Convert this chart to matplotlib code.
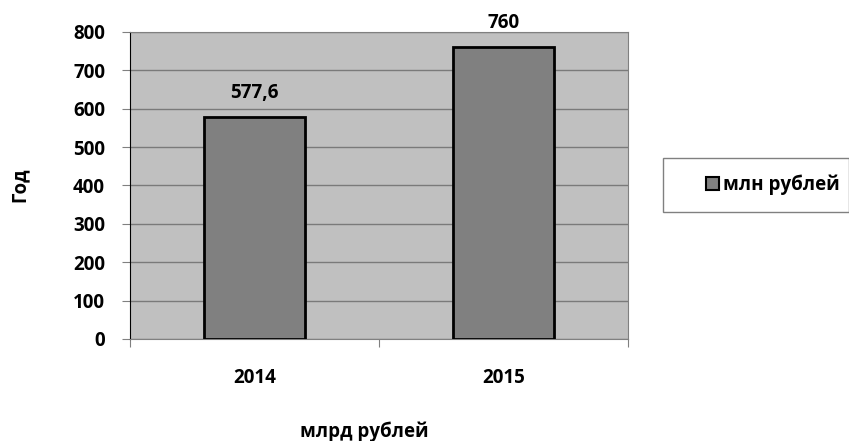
import matplotlib
matplotlib.use("Agg")
import matplotlib.pyplot as plt
from matplotlib.patches import Patch, Rectangle

# data
years = ["2014", "2015"]
values = [577.6, 760]
value_labels = ["577,6", "760"]
series_name = "млн рублей"
y_ticks = [0, 100, 200, 300, 400, 500, 600, 700, 800]

plt.rcParams['font.family'] = ['Open Sans', 'DejaVu Sans']
plt.rcParams['font.weight'] = 'bold'
FS = 13.5

fig = plt.figure(figsize=(8.49, 4.41), dpi=100)
ax = fig.add_axes([130/849, 1-339/441, 498/849, 307/441])
ax.set_facecolor("#c0c0c0")

x = range(len(years))
bars = ax.bar(x, values, width=0.405, color="#808080", edgecolor="black",
              linewidth=2, zorder=3)
for b, lab in zip(bars, value_labels):
    ax.annotate(lab, (b.get_x() + b.get_width()/2, b.get_height()),
                xytext=(0, 10), textcoords="offset points",
                ha="center", va="bottom", fontsize=FS, fontweight="bold")

ax.set_xlim(-0.5, 1.5)
ax.set_ylim(0, 800)
ax.set_yticks(y_ticks)
ax.set_yticklabels([str(t) for t in y_ticks], fontsize=FS, fontweight="bold")
ax.yaxis.grid(True, color="#7a7a7a", linewidth=1, zorder=0)
ax.set_axisbelow(True)

# category ticks sit between the bars, labels sit under the bars
ax.set_xticks([-0.5, 0.5, 1.5])
ax.set_xticklabels([])
ax.set_xticks(list(x), minor=True)
ax.set_xticklabels(years, minor=True, fontsize=FS, fontweight="bold")
ax.tick_params(axis="x", which="minor", length=0, pad=21)
ax.tick_params(axis="x", which="major", length=6, color="#808080")
ax.tick_params(axis="y", length=6, color="#808080", pad=12)

for s in ["top", "right", "bottom"]:
    ax.spines[s].set_color("#808080")
ax.spines["left"].set_color("black")

fig.text(20/849, 1-185/441, "Год", rotation=90, ha="center", va="center",
         fontsize=FS, fontweight="bold")
fig.text(364/849, 1-432/441, "млрд рублей", ha="center", va="center",
         fontsize=FS, fontweight="bold")

# legend box
fig.patches.append(Rectangle((663/849, 1-212/441), 186/849, 54/441,
                             transform=fig.transFigure, facecolor="white",
                             edgecolor="#808080", linewidth=1))
handle = Patch(facecolor="#808080", edgecolor="black", linewidth=1.5)
leg = fig.legend([handle], [series_name], loc="center left",
                 bbox_to_anchor=(706/849, 1-185/441), frameon=False,
                 fontsize=FS, handlelength=0.7, handleheight=0.7,
                 handletextpad=0.2, borderpad=0, borderaxespad=0)
for t in leg.get_texts():
    t.set_fontweight("bold")

fig.savefig("out.png", dpi=100)
